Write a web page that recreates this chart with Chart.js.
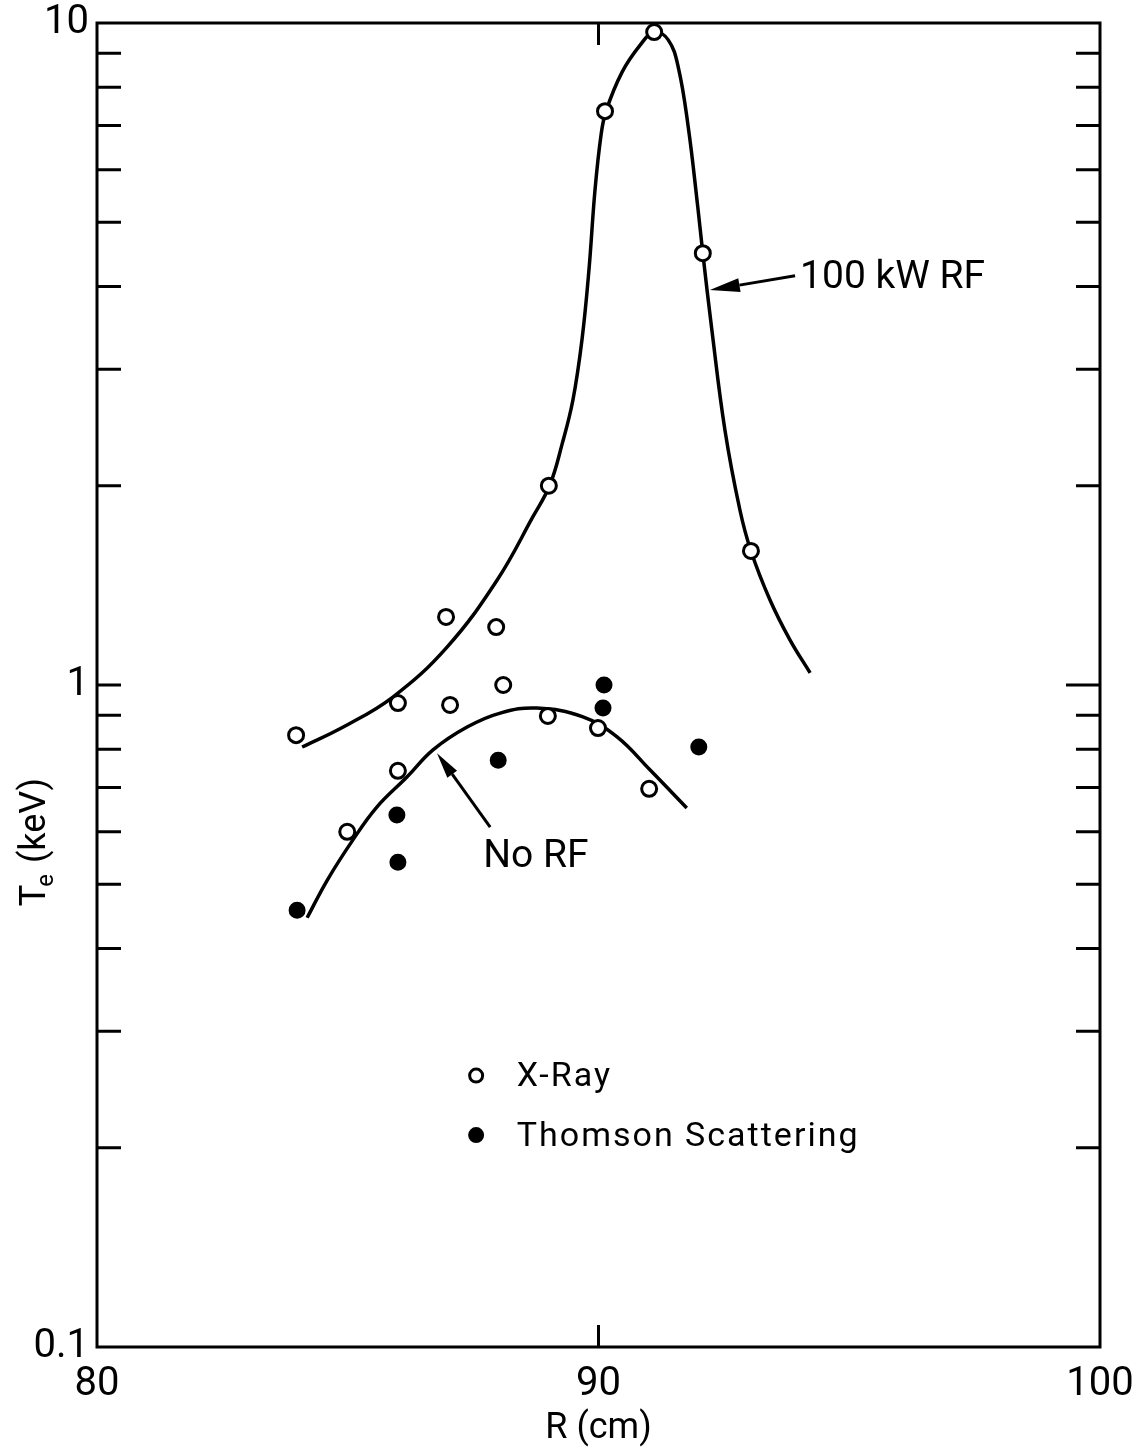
<!DOCTYPE html>
<html lang="en">
<head>
<meta charset="UTF-8">
<title>Te vs R</title>
<script src="https://cdn.jsdelivr.net/npm/chart.js"></script>
<style>
  html, body { margin: 0; padding: 0; background: #fff; }
  #wrap { width: 1146px; height: 1451px; }
</style>
</head>
<body>
<div id="wrap"><canvas id="myChart" width="1146" height="1451"></canvas></div>
<script>
// measured points (R in cm, Te in keV)
const xrayR  = [83.97, 84.99, 86.00, 86.00, 86.96, 87.04, 87.96, 88.10, 88.99, 89.01, 89.99, 90.13, 91.01, 91.11, 92.08, 93.04];
const xrayTe = [0.840, 0.600, 0.939, 0.742, 1.267, 0.933, 1.223, 1.000, 0.898, 2.00, 0.861, 7.36, 0.697, 9.69, 4.49, 1.594];

const thomsonR  = [83.99, 85.98, 86.00, 88.00, 90.11, 90.09, 92.00];
const thomsonTe = [0.457, 0.636, 0.540, 0.770, 1.00, 0.923, 0.806];

// hand-drawn fit curves
const rfCurveR  = [84.09, 84.91, 85.90, 86.98, 87.98, 88.69, 89.03, 89.27, 89.49, 89.67, 89.81, 89.93, 90.05, 90.15, 90.47, 90.83, 91.11, 91.39, 91.59, 91.79, 91.98, 92.08, 92.26, 92.52, 92.82, 93.04, 93.42, 93.82, 94.22];
const rfCurveTe = [0.806, 0.864, 0.959, 1.141, 1.441, 1.794, 2.005, 2.305, 2.695, 3.32, 4.24, 5.59, 6.77, 7.36, 8.43, 9.26, 9.69, 9.43, 8.58, 6.96, 5.27, 4.49, 3.44, 2.43, 1.838, 1.594, 1.344, 1.169, 1.043];

const noRfCurveR  = [84.19, 84.59, 85.10, 85.58, 86.18, 86.70, 87.38, 88.04, 88.77, 89.69, 90.37, 91.03, 91.76];
const noRfCurveTe = [0.445, 0.507, 0.583, 0.654, 0.726, 0.798, 0.864, 0.907, 0.923, 0.895, 0.835, 0.744, 0.652];

const xTickLabels = [80, 90, 100];
const yTickLabels = [0.1, 1, 10];
const yMinorTicks = [0.2, 0.3, 0.4, 0.5, 0.6, 0.7, 0.8, 0.9, 1, 2, 3, 4, 5, 6, 7, 8, 9];

const FONT = 'Roboto, "DejaVu Sans", sans-serif';

const pts = (rs, ts) => rs.map((r, i) => ({ x: r, y: ts[i] }));

// annotation anchors in data units
const notes = {
  rfText: { x: 94.02, y: 4.12, text: '100 kW RF' },
  rfArrow: { from: [93.92, 4.15], to: [92.22, 3.95] },
  noRfText: { x: 87.70, y: 0.550, text: 'No RF' },
  noRfArrow: { from: [87.84, 0.610], to: [86.78, 0.789] },
  legendX: 87.56, legendTextX: 88.37,
  legendRows: [{ y: 0.257, text: 'X-Ray', filled: false }, { y: 0.209, text: 'Thomson Scattering', filled: true }]
};

function arrow(ctx, x1, y1, x2, y2, headLen, headW) {
  const ang = Math.atan2(y2 - y1, x2 - x1);
  const bx = x2 - headLen * Math.cos(ang), by = y2 - headLen * Math.sin(ang);
  ctx.beginPath();
  ctx.moveTo(x1, y1);
  ctx.lineTo(bx, by);
  ctx.stroke();
  ctx.beginPath();
  ctx.moveTo(x2, y2);
  ctx.lineTo(bx + headW * Math.sin(ang), by - headW * Math.cos(ang));
  ctx.lineTo(bx - headW * Math.sin(ang), by + headW * Math.cos(ang));
  ctx.closePath();
  ctx.fill();
}

const paperPlugin = {
  id: 'paper',
  afterDraw(chart) {
    const { ctx, chartArea: a, scales: { x, y } } = chart;
    ctx.save();
    ctx.strokeStyle = '#000';
    ctx.fillStyle = '#000';
    ctx.lineWidth = 3;
    ctx.lineCap = 'butt';
    ctx.strokeRect(a.left, a.top, a.right - a.left, a.bottom - a.top);

    // inward ticks
    ctx.beginPath();
    yMinorTicks.forEach(v => {
      const yy = y.getPixelForValue(v);
      ctx.moveTo(a.left, yy); ctx.lineTo(a.left + 24, yy);
      ctx.moveTo(a.right, yy); ctx.lineTo(a.right - (v === 1 ? 34 : 24), yy);
    });
    const x90 = x.getPixelForValue(90);
    ctx.moveTo(x90, a.top); ctx.lineTo(x90, a.top + 22);
    ctx.moveTo(x90, a.bottom); ctx.lineTo(x90, a.bottom - 22);
    ctx.stroke();

    // annotations
    ctx.textBaseline = 'middle';
    ctx.textAlign = 'left';
    ctx.font = '39px ' + FONT;
    ctx.fillText(notes.rfText.text, x.getPixelForValue(notes.rfText.x), y.getPixelForValue(notes.rfText.y));
    ctx.fillText(notes.noRfText.text, x.getPixelForValue(notes.noRfText.x), y.getPixelForValue(notes.noRfText.y));
    ctx.lineWidth = 3;
    let f = notes.rfArrow.from, t = notes.rfArrow.to;
    arrow(ctx, x.getPixelForValue(f[0]), y.getPixelForValue(f[1]), x.getPixelForValue(t[0]), y.getPixelForValue(t[1]), 30, 7);
    f = notes.noRfArrow.from; t = notes.noRfArrow.to;
    arrow(ctx, x.getPixelForValue(f[0]), y.getPixelForValue(f[1]), x.getPixelForValue(t[0]), y.getPixelForValue(t[1]), 26, 6);

    // legend
    ctx.font = '34px ' + FONT;
    ctx.letterSpacing = '2px';
    const lx = x.getPixelForValue(notes.legendX), tx = x.getPixelForValue(notes.legendTextX);
    notes.legendRows.forEach(row => {
      const yy = y.getPixelForValue(row.y);
      ctx.beginPath();
      ctx.arc(lx, yy, 6.5, 0, Math.PI * 2);
      if (row.filled) ctx.fill();
      ctx.lineWidth = 3;
      ctx.stroke();
      ctx.fillText(row.text, tx, yy + 2);
    });
    ctx.letterSpacing = '0px';

    // y-axis title with subscript
    ctx.translate(33, 842);
    ctx.rotate(-Math.PI / 2);
    ctx.font = '36px ' + FONT;
    const wT = ctx.measureText('T').width;
    ctx.font = '24px ' + FONT;
    const wE = ctx.measureText('e').width;
    ctx.font = '36px ' + FONT;
    const wRest = ctx.measureText(' (keV)').width;
    let sx = -(wT + wE + wRest) / 2;
    ctx.textBaseline = 'alphabetic';
    ctx.fillText('T', sx, 12);
    ctx.font = '24px ' + FONT;
    ctx.fillText('e', sx + wT - 2, 20);
    ctx.font = '36px ' + FONT;
    ctx.fillText(' (keV)', sx + wT + wE, 12);
    ctx.restore();
  }
};

new Chart(document.getElementById('myChart').getContext('2d'), {
  type: 'scatter',
  data: {
    datasets: [
      {
        label: 'X-Ray',
        data: pts(xrayR, xrayTe),
        pointStyle: 'circle',
        pointRadius: 7.5,
        pointBorderWidth: 3,
        pointBorderColor: '#000',
        pointBackgroundColor: '#fff'
      },
      {
        label: 'Thomson Scattering',
        data: pts(thomsonR, thomsonTe),
        pointStyle: 'circle',
        pointRadius: 7.5,
        pointBorderWidth: 2,
        pointBorderColor: '#000',
        pointBackgroundColor: '#000'
      },
      {
        label: '100 kW RF',
        type: 'line',
        data: pts(rfCurveR, rfCurveTe),
        borderColor: '#000',
        borderWidth: 3.5,
        pointRadius: 0,
        tension: 0.4,
        fill: false
      },
      {
        label: 'No RF',
        type: 'line',
        data: pts(noRfCurveR, noRfCurveTe),
        borderColor: '#000',
        borderWidth: 3.5,
        pointRadius: 0,
        tension: 0.4,
        fill: false
      }
    ]
  },
  options: {
    responsive: false,
    animation: false,
    layout: { padding: { top: 23, right: 46, left: 0, bottom: 0 } },
    plugins: { legend: { display: false }, tooltip: { enabled: false } },
    scales: {
      x: {
        type: 'linear',
        min: 80, max: 100,
        afterBuildTicks: s => { s.ticks = xTickLabels.map(v => ({ value: v })); },
        afterFit: s => { s.height = 104; s.paddingLeft = 0; s.paddingRight = 0; },
        grid: { display: false, drawTicks: false },
        border: { display: false },
        ticks: { color: '#000', font: { family: FONT, size: 40 }, padding: 14, maxRotation: 0 },
        title: { display: true, text: 'R (cm)', color: '#000', font: { family: FONT, size: 36 }, padding: { top: 0, bottom: 0 } }
      },
      y: {
        type: 'logarithmic',
        min: 0.1, max: 10,
        afterBuildTicks: s => { s.ticks = yTickLabels.map(v => ({ value: v })); },
        afterFit: s => { s.width = 97; s.paddingTop = 0; s.paddingBottom = 0; },
        grid: { display: false, drawTicks: false },
        border: { display: false },
        ticks: { color: '#000', font: { family: FONT, size: 40 }, padding: 8, callback: v => String(v) }
      }
    }
  },
  plugins: [paperPlugin]
});
</script>
</body>
</html>
